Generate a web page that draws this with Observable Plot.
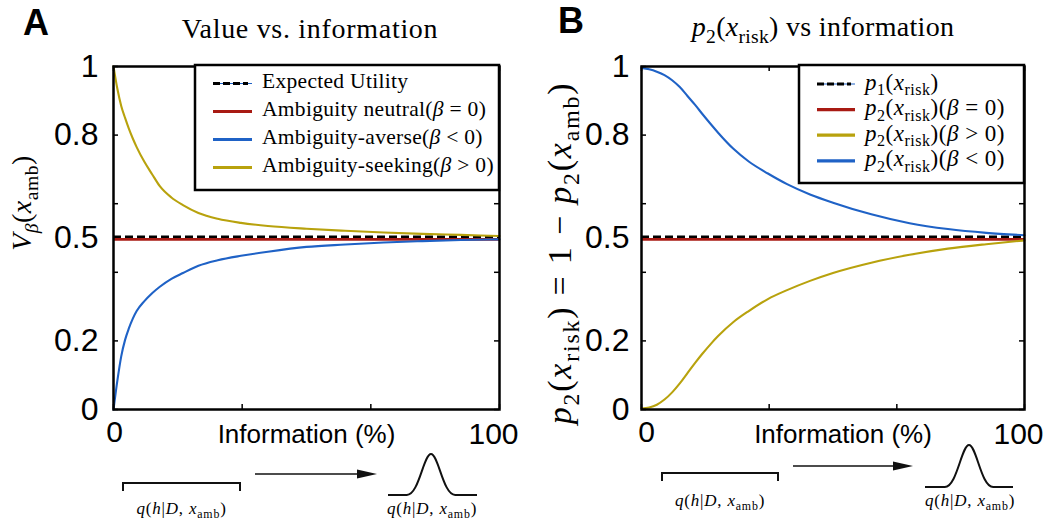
<!DOCTYPE html>
<html><head><meta charset="utf-8">
<script src="https://cdn.jsdelivr.net/npm/d3@7"></script>
<script src="https://cdn.jsdelivr.net/npm/@observablehq/plot@0.6"></script>
<style>
html,body{margin:0;padding:0;background:#fff;}
#wrap{position:relative;width:1050px;height:522px;overflow:hidden;background:#fff;}
#wrap > svg{position:absolute;top:0;}
text{white-space:pre;}
</style></head><body><div id="wrap"></div>
<script>
// ---------- data ----------
// Panel A: value of ambiguous option vs information (%)
const infoA = [0, 1, 2, 3, 4, 5, 6, 8, 10, 12, 15, 18, 22, 27, 33, 40, 50, 60, 70, 80, 90, 100];
const valueSeeking = [1.000, 0.935, 0.885, 0.850, 0.818, 0.790, 0.765, 0.722, 0.686, 0.651, 0.618, 0.596, 0.573, 0.556, 0.544, 0.535, 0.527, 0.521, 0.516, 0.512, 0.509, 0.506];
const valueAverse  = [0.000, 0.084, 0.155, 0.203, 0.237, 0.265, 0.287, 0.316, 0.339, 0.358, 0.381, 0.398, 0.419, 0.435, 0.448, 0.460, 0.474, 0.481, 0.487, 0.491, 0.494, 0.496];
// Panel B: p2(x_risk) vs information (%)
const infoB = [0, 2, 4, 6, 8, 10, 12, 14, 16, 18, 20, 24, 28, 33, 38, 44, 50, 60, 70, 80, 90, 100];
const probAverse  = [0.996, 0.992, 0.985, 0.975, 0.960, 0.940, 0.914, 0.888, 0.860, 0.833, 0.807, 0.760, 0.723, 0.688, 0.657, 0.627, 0.603, 0.569, 0.543, 0.526, 0.515, 0.508];
const probSeeking = [0.003, 0.006, 0.014, 0.029, 0.050, 0.076, 0.106, 0.136, 0.164, 0.190, 0.214, 0.255, 0.287, 0.322, 0.348, 0.375, 0.398, 0.428, 0.451, 0.469, 0.482, 0.493];
const expectedValue = 0.5;   // expected utility / p1(x_risk)
const neutralValue = 0.5;    // beta = 0

// ticks and labels
const xTickValues = [0, 100 / 3, 200 / 3, 100];
const xTickLabels = [0, 100];
const yTickValues = [0, 0.2, 0.4, 0.6, 0.8, 1];
const yTickLabels = [0, 0.2, 0.5, 0.8, 1];
const xAxisLabel = "Information (%)";

const legendA = ["Expected Utility", "Ambiguity neutral(*β* = 0)", "Ambiguity-averse(*β* < 0)", "Ambiguity-seeking(*β* > 0)"];
const legendB = ["*p*_{1}(*x*_{risk})", "*p*_{2}(*x*_{risk})(*β* = 0)", "*p*_{2}(*x*_{risk})(*β* > 0)", "*p*_{2}(*x*_{risk})(*β* < 0)"];
const titleA = "Value vs. information";
const titleB = "*p*_{2}(*x*_{risk}) vs information";
const yLabelA = "*V*_{*β*}(*x*_{amb})";
const yLabelB = "*p*_{2}(*x*_{risk}) = 1 − *p*_{2}(*x*_{amb})";
const qLabel = "*q*(*h*|*D*, *x*_{amb})";

const colors = {neutral: "#a81a13", averse: "#1f62c6", seeking: "#b8a20d", expected: "#000000"};
const SANS = "Liberation Sans, Arial, Helvetica, sans-serif";
const SERIF = "Liberation Serif, Times New Roman, serif";

// ---------- helpers ----------
function mathText(textSel, str, size) {
  const parts = str.split(/(\*[^*]+\*|_\{(?:[^{}]|\*[^*]*\*)*\})/g).filter(s => s.length);
  let shift = 0;
  for (const p of parts) {
    if (p.startsWith("_{")) {
      const s = size * 0.24;
      const inner = p.slice(2, -1);
      const it = inner.startsWith("*") && inner.endsWith("*");
      const t = textSel.append("tspan").text(it ? inner.slice(1, -1) : inner)
        .attr("font-size", size * 0.7);
      if (it) t.attr("font-style", "italic");
      if (s - shift) t.attr("dy", s - shift);
      shift = s;
    } else {
      const it = p.startsWith("*") && p.endsWith("*") && p.length > 1;
      const t = textSel.append("tspan").text(it ? p.slice(1, -1) : p).attr("font-size", size);
      if (it) t.attr("font-style", "italic");
      if (shift) t.attr("dy", -shift);
      shift = 0;
    }
  }
  return textSel;
}

function bellPath(x0, x1, c, base, top, s) {
  const p = d3.path();
  p.moveTo(x0, base); p.lineTo(c - 2.6 * s, base);
  p.bezierCurveTo(c - 1.3 * s, base, c - 0.8 * s, top, c, top);
  p.bezierCurveTo(c + 0.8 * s, top, c + 1.3 * s, base, c + 2.6 * s, base);
  p.lineTo(x1, base);
  return p.toString();
}

function makePanel(o) {
  const W = 525, H = 522;
  const innerW = W - o.ml - o.mr, innerH = H - o.mt - o.mb;
  const tick = 5;
  const curves = o.curves.map(c => Plot.line(o.x.map((x, i) => ({x, y: c.values[i]})),
    {x: "x", y: "y", stroke: c.color, strokeWidth: 2.1, curve: "monotone-x"}));
  const svg = Plot.plot({
    width: W, height: H,
    marginLeft: o.ml, marginRight: o.mr, marginTop: o.mt, marginBottom: o.mb,
    x: {domain: [0, 100], axis: null},
    y: {domain: [0, 1], axis: null},
    style: {background: "white", overflow: "visible"},
    marks: [
      Plot.ruleY([neutralValue], {stroke: colors.neutral, strokeWidth: 2.6, dy: 1.4}),
      Plot.ruleY([expectedValue], {stroke: colors.expected, strokeWidth: 2.4, strokeDasharray: "8,4", dy: -1.2}),
      ...curves,
      Plot.frame({stroke: "black", strokeWidth: 2.5}),
      Plot.tickX(xTickValues, {x: d => d, stroke: "black", strokeWidth: 1.5, insetTop: innerH - tick}),
      Plot.tickX(xTickValues, {x: d => d, stroke: "black", strokeWidth: 1.5, insetBottom: innerH - tick}),
      Plot.tickY(yTickValues, {y: d => d, stroke: "black", strokeWidth: 1.5, insetRight: innerW - tick}),
      Plot.tickY(yTickValues, {y: d => d, stroke: "black", strokeWidth: 1.5, insetLeft: innerW - tick}),
      Plot.text(yTickLabels, {y: d => d, text: d => String(d), frameAnchor: "left", textAnchor: "end",
        dx: o.ydx, fontSize: 32, fontFamily: SANS, fill: "black"}),
      Plot.text([xTickLabels[0]], {x: d => d, text: d => String(d), frameAnchor: "bottom", lineAnchor: "top",
        dy: 11, dx: o.x0dx, fontSize: 30, fontFamily: SANS, fill: "black"}),
      Plot.text([xTickLabels[1]], {x: d => d, text: d => String(d), frameAnchor: "bottom", lineAnchor: "top",
        dy: 13, dx: -6, fontSize: 30, fontFamily: SANS, fill: "black"}),
      Plot.text([xAxisLabel], {frameAnchor: "bottom", lineAnchor: "top", dy: 15, dx: o.labdx,
        fontSize: 26, fontFamily: SANS, fill: "black"})
    ]
  });
  svg.style.left = o.left + "px";
  const g = d3.select(svg).append("g").attr("text-anchor", "start");

  // panel letter
  g.append("text").attr("x", o.letterX).attr("y", o.letterY).text(o.letter).attr("text-anchor", "start")
    .attr("font-family", SANS).attr("font-weight", "bold").attr("font-size", 36);
  // title
  mathText(g.append("text").attr("x", o.titleX).attr("y", o.titleY).attr("text-anchor", "middle")
    .attr("letter-spacing", o.titleLS).attr("font-family", SERIF), o.title, 28);
  // y label
  mathText(g.append("text").attr("transform", `translate(${o.ylabX},${o.ylabY}) rotate(-90)`)
    .attr("letter-spacing", o.ylabLS)
    .attr("text-anchor", "middle").attr("font-family", SERIF), o.ylab, o.ylabSize);

  // legend
  const L = o.legend;
  g.append("rect").attr("x", L.x0).attr("y", L.y0).attr("width", L.x1 - L.x0).attr("height", L.y1 - L.y0)
    .attr("fill", "white").attr("stroke", "black").attr("stroke-width", 2.5);
  L.items.forEach((it, i) => {
    const y = L.row0 + i * L.step;
    if (it.dash) {
      g.append("line").attr("x1", L.s0).attr("x2", L.s1).attr("y1", y).attr("y2", y)
        .attr("stroke", colors.averse).attr("stroke-width", 1);
      g.append("line").attr("x1", L.s0).attr("x2", L.s1 - 4).attr("y1", y).attr("y2", y)
        .attr("stroke", it.color).attr("stroke-width", 3).attr("stroke-dasharray", "7,3");
    } else {
      g.append("line").attr("x1", L.s0).attr("x2", L.s1).attr("y1", y).attr("y2", y)
        .attr("stroke", it.color).attr("stroke-width", 3.2);
    }
    mathText(g.append("text").attr("x", L.tx).attr("y", y + L.base).attr("text-anchor", "start")
      .attr("letter-spacing", L.ls).attr("font-family", SERIF), it.label, L.size);
  });

  // schematic below axis
  const S = o.schem;
  g.append("path").attr("d", `M${S.b0},${S.by + 8}V${S.by}H${S.b1}V${S.by + 8}`)
    .attr("fill", "none").attr("stroke", "#111").attr("stroke-width", 2);
  g.append("line").attr("x1", S.a0).attr("x2", S.a1 - 16).attr("y1", S.ay).attr("y2", S.ay)
    .attr("stroke", "#111").attr("stroke-width", 1.4);
  g.append("path").attr("d", `M${S.a1 - 20},${S.ay - 4.5}L${S.a1},${S.ay}L${S.a1 - 20},${S.ay + 4.5}Z`).attr("fill", "#111");
  g.append("path").attr("d", bellPath(S.g0, S.g1, S.gc, S.gy, S.gt, 9.3))
    .attr("fill", "none").attr("stroke", "#111").attr("stroke-width", 2);
  mathText(g.append("text").attr("x", (S.b0 + S.b1) / 2).attr("y", S.qy).attr("text-anchor", "middle")
    .attr("letter-spacing", 0.8).attr("font-family", SERIF), qLabel, 17);
  mathText(g.append("text").attr("x", S.gc + 1).attr("y", S.qy).attr("text-anchor", "middle")
    .attr("letter-spacing", 0.8).attr("font-family", SERIF), qLabel, 17);
  return svg;
}

const wrap = document.getElementById("wrap");

wrap.appendChild(makePanel({
  left: 0, ml: 113, mr: 26, mt: 66, mb: 113,
  x: infoA,
  curves: [
    {values: valueSeeking, color: colors.seeking},
    {values: valueAverse, color: colors.averse}
  ],
  ydx: -15, x0dx: 1, labdx: 0,
  letter: "A", letterX: 23, letterY: 35,
  title: titleA, titleX: 310, titleY: 38, titleLS: 0.7,
  ylab: yLabelA, ylabX: 31, ylabY: 203, ylabSize: 28, ylabLS: 0.5,
  legend: {
    x0: 195, y0: 65, x1: 499, y1: 190, s0: 213, s1: 252, tx: 262, row0: 83.5, step: 28, base: 4.5, size: 21.5, ls: 0.3,
    items: [
      {label: legendA[0], color: colors.expected, dash: true},
      {label: legendA[1], color: colors.neutral},
      {label: legendA[2], color: colors.averse},
      {label: legendA[3], color: colors.seeking}
    ]
  },
  schem: {b0: 123, b1: 240, by: 483, a0: 255, a1: 377, ay: 474, g0: 388, g1: 477, gc: 431, gy: 495, gt: 454, qy: 514}
}));

wrap.appendChild(makePanel({
  left: 525, ml: 116, mr: 26, mt: 66, mb: 113,
  x: infoB,
  curves: [
    {values: probSeeking, color: colors.seeking},
    {values: probAverse, color: colors.averse}
  ],
  ydx: -12, x0dx: 5, labdx: 10,
  letter: "B", letterX: 33, letterY: 33,
  title: titleB, titleX: 298, titleY: 36, titleLS: 0.3,
  ylab: yLabelB, ylabX: 46, ylabY: 253, ylabSize: 34, ylabLS: 1.8,
  legend: {
    x0: 274, y0: 65, x1: 499, y1: 183, s0: 292, s1: 330, tx: 340, row0: 84, step: 25.6, base: 5.5, size: 23, ls: 0.5,
    items: [
      {label: legendB[0], color: colors.expected, dash: true},
      {label: legendB[1], color: colors.neutral},
      {label: legendB[2], color: colors.seeking},
      {label: legendB[3], color: colors.averse}
    ]
  },
  schem: {b0: 137, b1: 253, by: 473, a0: 268, a1: 388, ay: 466, g0: 400, g1: 488, gc: 444, gy: 487, gt: 445, qy: 506}
}));
</script>
</body></html>
